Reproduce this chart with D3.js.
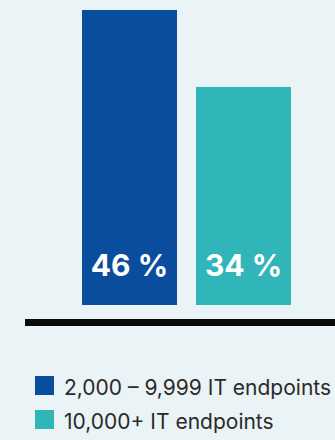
<!DOCTYPE html>
<html>
<head>
<meta charset="utf-8">
<script src="https://cdn.jsdelivr.net/npm/d3@7"></script>
<style>
  html, body { margin: 0; padding: 0; background: #eaf3f5; }
  svg { display: block; }
</style>
</head>
<body>
<svg id="chart" width="335" height="440"></svg>
<script>
// Share of organisations by endpoint count
const categories = ["2,000 – 9,999 IT endpoints", "10,000+ IT endpoints"];
const values = [46, 34];
const valueLabels = ["46 %", "34 %"];
const colors = ["#0b4d9d", "#30b5b8"];

const svg = d3.select("#chart");
const font = "Inter, 'Noto Sans', sans-serif";

const x = d3.scaleBand()
  .domain(categories)
  .range([82, 291])
  .paddingInner(19 / 114)
  .paddingOuter(0);

const y = d3.scaleLinear()
  .domain([0, 46])
  .range([305, 10]);

const color = d3.scaleOrdinal().domain(categories).range(colors);

// bars
svg.selectAll("rect.bar")
  .data(categories)
  .join("rect")
  .attr("class", "bar")
  .attr("x", d => x(d))
  .attr("width", x.bandwidth())
  .attr("y", (d, i) => y(values[i]))
  .attr("height", (d, i) => y(0) - y(values[i]))
  .attr("fill", d => color(d));

// value labels inside bars
svg.selectAll("text.value")
  .data(categories)
  .join("text")
  .attr("class", "value")
  .attr("x", d => x(d) + x.bandwidth() / 2)
  .attr("y", 276)
  .attr("text-anchor", "middle")
  .attr("fill", "#ffffff")
  .attr("font-family", font)
  .attr("font-weight", 700)
  .attr("font-size", 30)
  .text((d, i) => valueLabels[i]);

// baseline
svg.append("line")
  .attr("x1", 25).attr("x2", 335)
  .attr("y1", 322.5).attr("y2", 322.5)
  .attr("stroke", "#0a0a0a")
  .attr("stroke-width", 7);

// legend
const legend = svg.selectAll("g.legend")
  .data(categories)
  .join("g")
  .attr("class", "legend")
  .attr("transform", (d, i) => `translate(35, ${376 + i * 34})`);

legend.append("rect")
  .attr("width", 19).attr("height", 19)
  .attr("fill", d => color(d));

legend.append("text")
  .attr("x", 29)
  .attr("y", 19)
  .attr("fill", "#2a2a2a")
  .attr("font-family", font)
  .attr("font-size", 21)
  .text(d => d);
</script>
</body>
</html>
